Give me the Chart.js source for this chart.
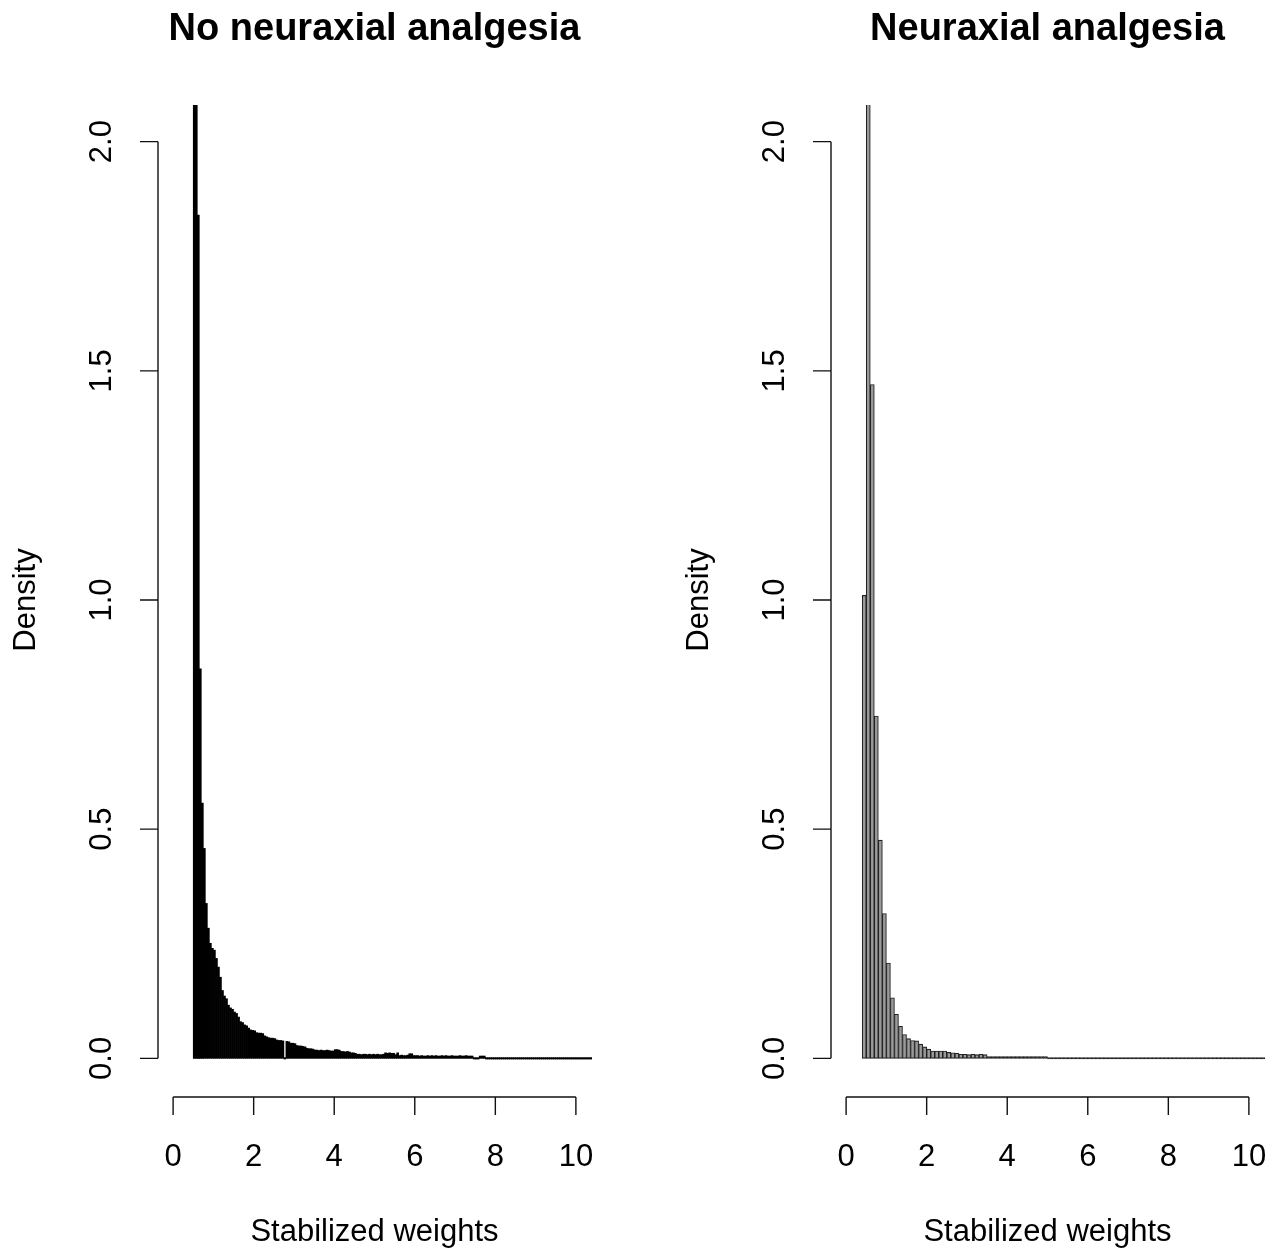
<!DOCTYPE html>
<html>
<head>
<meta charset="utf-8">
<script src="https://cdn.jsdelivr.net/npm/chart.js@4.4.1/dist/chart.umd.min.js"></script>
<style>
  html, body { margin: 0; padding: 0; background: #fff; }
  #wrap { position: relative; width: 1272px; height: 1253px; overflow: hidden; }
  .panel { position: absolute; top: 0; }
  #panelIzq { left: 0; }
  #panelDer { left: 673px; }
</style>
</head>
<body>
<div id="wrap">
  <div class="panel" id="panelIzq"><canvas id="chartIzq" width="636" height="1253"></canvas></div>
  <div class="panel" id="panelDer"><canvas id="chartDer" width="599" height="1253"></canvas></div>
</div>
<script>
// Textos y ticks
const titulos = ['No neuraxial analgesia', 'Neuraxial analgesia'];
const tituloX = 'Stabilized weights';
const tituloY = 'Density';
const xTicks = [0, 2, 4, 6, 8, 10];
const yTicks = [0, 0.5, 1, 1.5, 2];
const yTickLabels = ['0.0', '0.5', '1.0', '1.5', '2.0'];

// Histograma izquierdo: bins de 0.05 desde 0.5
const sinNeuraxialInicio = 0.5;
const sinNeuraxialAncho = 0.05;
const sinNeuraxialDensidad = [
    2.60, 2.40, 1.84, 0.850, 0.557, 0.458, 0.338, 0.284, 0.251, 0.240,
    0.236, 0.218, 0.199, 0.177, 0.148, 0.136, 0.130, 0.116, 0.110, 0.107,
    0.101, 0.098, 0.090, 0.080, 0.078, 0.073, 0.071, 0.066, 0.062, 0.061,
    0.060, 0.056, 0.055, 0.055, 0.054, 0.049, 0.047, 0.045, 0.044, 0.044,
    0.043, 0.040, 0.039, 0.039, 0.038, 0.000, 0.037, 0.036, 0.033, 0.033,
    0.032, 0.028, 0.027, 0.027, 0.026, 0.025, 0.022, 0.021, 0.021, 0.020,
    0.018, 0.018, 0.017, 0.018, 0.017, 0.017, 0.018, 0.017, 0.016, 0.016,
    0.019, 0.019, 0.018, 0.015, 0.015, 0.014, 0.015, 0.014, 0.012, 0.012,
    0.011, 0.009, 0.009, 0.008, 0.009, 0.009, 0.008, 0.009, 0.008, 0.009,
    0.008, 0.009, 0.008, 0.008, 0.009, 0.012, 0.011, 0.012, 0.011, 0.011,
    0.008, 0.012, 0.006, 0.007, 0.006, 0.006, 0.007, 0.010, 0.010, 0.006,
    0.006, 0.006, 0.005, 0.006, 0.005, 0.005, 0.006, 0.005, 0.006, 0.005,
    0.006, 0.005, 0.005, 0.006, 0.005, 0.006, 0.005, 0.005, 0.006, 0.005,
    0.005, 0.005, 0.006, 0.005, 0.005, 0.006, 0.005, 0.005, 0.005, 0,
    0, 0, 0.005, 0.005, 0.005, 0, 0, 0, 0, 0,
    0, 0, 0, 0, 0, 0, 0, 0, 0, 0,
    0, 0, 0, 0, 0, 0, 0, 0, 0, 0,
    0, 0, 0, 0, 0, 0, 0, 0, 0, 0,
    0, 0, 0, 0, 0, 0, 0, 0, 0, 0,
    0, 0, 0, 0, 0, 0, 0, 0, 0, 0
];

// Histograma derecho: bins de 0.1 desde 0.4
const neuraxialInicio = 0.4;
const neuraxialAncho = 0.1;
const neuraxialDensidad = [
    1.01, 2.45, 1.47, 0.747, 0.476, 0.316, 0.208, 0.132, 0.096, 0.070,
    0.052, 0.043, 0.039, 0.038, 0.031, 0.025, 0.020, 0.016, 0.016, 0.016,
    0.016, 0.013, 0.012, 0.011, 0.009, 0.009, 0.008, 0.009, 0.008, 0.009,
    0.008, 0.004, 0.004, 0.004, 0.004, 0.004, 0.004, 0.004, 0.004, 0.004,
    0.004, 0.004, 0.004, 0.004, 0.004, 0.004, 0, 0, 0, 0,
    0, 0, 0, 0, 0, 0, 0, 0, 0, 0,
    0, 0, 0, 0, 0, 0, 0, 0, 0, 0,
    0, 0, 0, 0, 0, 0, 0, 0, 0, 0,
    0, 0, 0, 0, 0, 0, 0, 0, 0, 0,
    0, 0, 0, 0, 0, 0, 0, 0, 0, 0
];

const fuente = '"Liberation Sans", Arial, Helvetica, sans-serif';

// Ejes al estilo de R base graphics
const ejesR = {
    id: 'ejesR',
    afterDraw(chart, args, opts) {
        const { ctx, chartArea, scales: { x, y } } = chart;
        ctx.save();
        ctx.strokeStyle = '#111';
        ctx.fillStyle = '#000';
        ctx.lineWidth = 1.4;

        // eje x
        const yEje = chartArea.bottom + 2;
        ctx.beginPath();
        ctx.moveTo(x.getPixelForValue(xTicks[0]), yEje);
        ctx.lineTo(x.getPixelForValue(xTicks[xTicks.length - 1]), yEje);
        xTicks.forEach(t => {
            const px = x.getPixelForValue(t);
            ctx.moveTo(px, yEje);
            ctx.lineTo(px, yEje + 18);
        });
        // eje y
        const xEje = chartArea.left + 1;
        ctx.moveTo(xEje, y.getPixelForValue(yTicks[0]));
        ctx.lineTo(xEje, y.getPixelForValue(yTicks[yTicks.length - 1]));
        yTicks.forEach(t => {
            const py = y.getPixelForValue(t);
            ctx.moveTo(xEje, py);
            ctx.lineTo(xEje - 18, py);
        });
        ctx.stroke();

        ctx.font = '31px ' + fuente;
        ctx.textAlign = 'center';
        ctx.textBaseline = 'alphabetic';
        xTicks.forEach(t => ctx.fillText(String(t), x.getPixelForValue(t), 1166));

        yTicks.forEach((t, i) => {
            ctx.save();
            ctx.translate(111, y.getPixelForValue(t));
            ctx.rotate(-Math.PI / 2);
            ctx.fillText(yTickLabels[i], 0, 0);
            ctx.restore();
        });

        const centroX = (chartArea.left + chartArea.right) / 2;
        const centroY = (chartArea.top + chartArea.bottom) / 2;
        ctx.fillText(tituloX, centroX, 1241);

        ctx.save();
        ctx.translate(35, centroY);
        ctx.rotate(-Math.PI / 2);
        ctx.fillText(tituloY, 0, 0);
        ctx.restore();

        ctx.font = 'bold 38px ' + fuente;
        ctx.fillText(opts.titulo, centroX, 40);
        ctx.restore();
    }
};

function crearHistograma(canvasId, densidad, inicio, ancho, titulo, estilo) {
    const ctx = document.getElementById(canvasId).getContext('2d');
    const puntos = densidad.map((d, i) => ({ x: inicio + ancho * (i + 0.5), y: d }));
    return new Chart(ctx, {
        type: 'bar',
        data: {
            datasets: [{
                data: puntos,
                // barras muy bajas se ven sólo como borde, igual que en R
                backgroundColor: c => (c.raw && c.raw.y < 0.006) ? estilo.borde : estilo.relleno,
                borderColor: estilo.borde,
                borderWidth: estilo.grosor,
                borderSkipped: false,
                barPercentage: 1,
                categoryPercentage: 1,
                minBarLength: 1.4,
                clip: 0
            }]
        },
        options: {
            responsive: false,
            animation: false,
            events: [],
            layout: { padding: { left: 157, right: estilo.padDer, top: 105, bottom: 158 } },
            scales: {
                x: { type: 'linear', min: -0.4, max: 10.4, offset: false, display: false },
                y: { type: 'linear', min: -0.08, max: 2.08, beginAtZero: false, display: false }
            },
            plugins: {
                legend: { display: false },
                tooltip: { enabled: false },
                ejesR: { titulo: titulo }
            }
        },
        plugins: [ejesR]
    });
}

document.addEventListener('DOMContentLoaded', () => {
    crearHistograma('chartIzq', sinNeuraxialDensidad, sinNeuraxialInicio, sinNeuraxialAncho, titulos[0],
        { relleno: '#000', borde: '#000', grosor: 0, padDer: 44 });
    crearHistograma('chartDer', neuraxialDensidad, neuraxialInicio, neuraxialAncho, titulos[1],
        { relleno: '#9a9a9a', borde: '#222', grosor: 1.1, padDer: 7 });
});
</script>
</body>
</html>
